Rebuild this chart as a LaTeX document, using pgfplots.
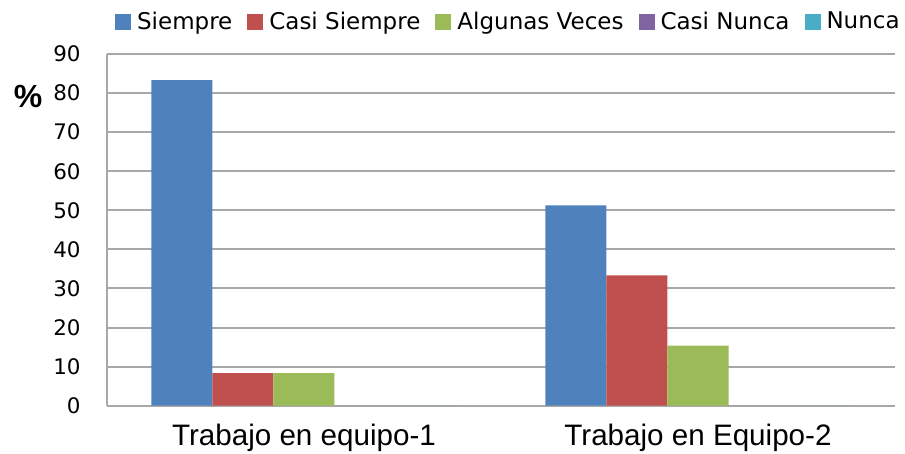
\documentclass[border=0pt]{standalone}
\usepackage{pgfplots}
\pgfplotsset{compat=1.18}
\usepackage{fontspec}
\setmainfont{DejaVu Sans}
\newfontfamily\lib{Liberation Sans}
\definecolor{cA}{HTML}{4F81BD}
\definecolor{cB}{HTML}{C0504D}
\definecolor{cC}{HTML}{9BBB59}
\definecolor{cD}{HTML}{8064A2}
\definecolor{cE}{HTML}{4BACC6}
\definecolor{gridc}{HTML}{A8A8A8}
\begin{document}
\begin{tikzpicture}
\useasboundingbox (-53.5pt,-24.15pt) rectangle (399pt,202.85pt);
\begin{axis}[
  scale only axis,
  width=394pt, height=175.85pt,
  xmin=-0.5, xmax=1.5, ymin=0, ymax=90,
  ytick={0,10,...,90},
  xtick={0,1},
  xticklabels={Trabajo en equipo-1,Trabajo en Equipo-2},
  axis x line*=bottom, axis y line*=left,
  axis line style={draw=gridc, line width=1pt},
  major tick length=0pt,
  ymajorgrids,
  grid style={draw=gridc, line width=1pt},
  /pgf/number format/assume math mode=true,
  yticklabel style={font=\fontsize{10.7}{12}\selectfont, inner sep=0pt, xshift=-13pt},
  xticklabel style={font=\lib\fontsize{14.8}{16}\selectfont, inner sep=0pt, yshift=-9pt},
  ylabel={\lib\bfseries\fontsize{16}{18}\selectfont \%},
  ylabel style={rotate=-90, at={(axis description cs:-0.1,0.878)}, anchor=center},
  ybar, bar width=30.5pt,
  legend columns=-1,
  legend style={draw=none, fill=none, at={(rel axis cs:0.51,1)}, anchor=center, yshift=16pt,
    font=\fontsize{11.5}{13}\selectfont, inner sep=0pt,
    nodes={inner sep=1.5pt},
    /tikz/every odd column/.append style={column sep=1.5pt},
    /tikz/every even column/.append style={column sep=6pt}},
  legend image code/.code={\fill[#1,draw=none] (0pt,-4pt) rectangle (8pt,4pt);},
  clip=false,
]
\addplot[fill=cA, draw=none, bar shift=-61pt] coordinates {(0,83.33) (1,51.28)};
\addplot[fill=cB, draw=none, bar shift=-30.5pt] coordinates {(0,8.33) (1,33.33)};
\addplot[fill=cC, draw=none, bar shift=0pt] coordinates {(0,8.33) (1,15.38)};
\addplot[fill=cD, draw=none, bar shift=30.5pt] coordinates {(0,0) (1,0)};
\addplot[fill=cE, draw=none, bar shift=61pt] coordinates {(0,0) (1,0)};
\legend{Siempre,Casi Siempre,Algunas Veces,Casi Nunca,Nunca}
\end{axis}
\end{tikzpicture}
\end{document}
